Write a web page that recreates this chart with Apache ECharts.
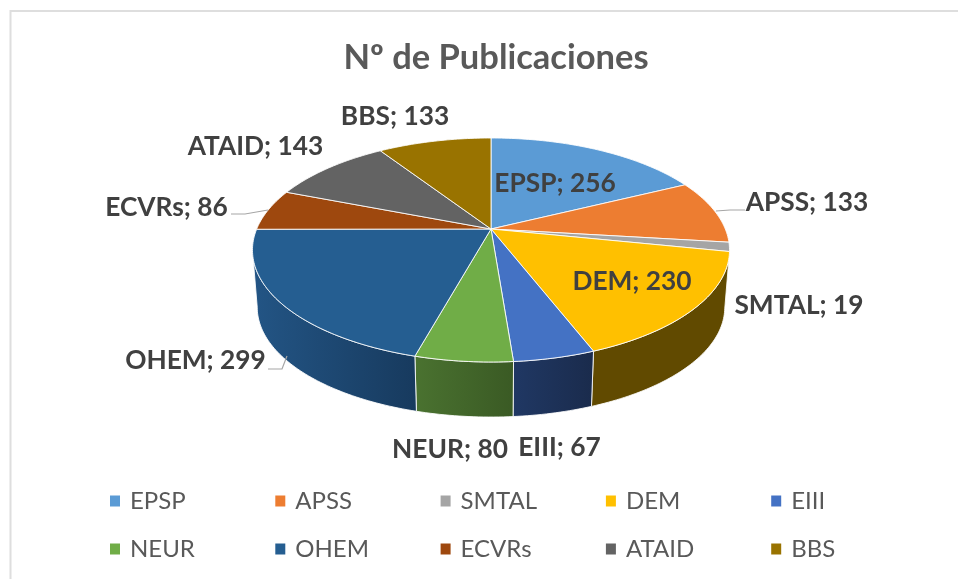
<!DOCTYPE html>
<html>
<head>
<meta charset="utf-8">
<style>html,body{margin:0;padding:0;background:#fff}#c{width:958px;height:579px}</style>
<script src="https://cdn.jsdelivr.net/npm/echarts@6/dist/echarts.min.js"></script>
</head>
<body>
<div id="c"></div>
<script>
// ---- data ----
const titleText = 'Nº de Publicaciones';
const categories = ['EPSP','APSS','SMTAL','DEM','EIII','NEUR','OHEM','ECVRs','ATAID','BBS'];
const values = [256,133,19,230,67,80,299,86,143,133];
const topColors = ['#5B9BD5','#ED7D31','#A5A5A5','#FFC000','#4472C4','#70AD47','#255E91','#9E480E','#636363','#997300'];
const wallLeft = ['#37699a','#8f4b1d','#636363','#614A00','#203864','#4A7230','#235585','#5f2b08','#3b3b3b','#5c4500'];
const wallRight = ['#37699a','#8f4b1d','#636363','#614A00','#1A2B4C','#3A5A24','#173A5E','#5f2b08','#3b3b3b','#5c4500'];

// ---- layout ----
const PIE = {cx:491, cy:229, rx:234.3, ry:108.06, persp:0.1875, shrink:0.98, drop:57.7};
const FONT = 'Lato, Carlito, sans-serif';
const labelCenters = [[555,184],[807,203],[799,306],[632,282],[559.5,448],[450,450],[195.5,361],[166.5,208],[255.5,147],[395,117]];
const leaders = {
  1: [[716,211],[730,210],[745,210]],
  6: [[268,369],[282,369],[287,356]],
  7: [[231,214],[245,214],[268,210]]
};
const legendCols = 5, legendX = 110, legendDX = 165.3, legendY = [489,537];

const total = values.reduce((a,b)=>a+b,0);
const silhouette = Math.acos(-PIE.persp)*180/Math.PI;
function startAngle(i){ return values.slice(0,i).reduce((a,b)=>a+b,0)/total*360; }
function projTop(deg){
  const r = deg*Math.PI/180, X = Math.sin(r), Y = Math.cos(r), w = 1+PIE.persp*Y;
  return [PIE.cx+PIE.rx*X/w, PIE.cy-PIE.ry*Y/w];
}
function projBottom(deg){
  const p = projTop(deg);
  return [PIE.cx+PIE.shrink*(p[0]-PIE.cx), PIE.cy+PIE.drop+PIE.shrink*(p[1]-PIE.cy)];
}
function samples(a0,a1){
  const out=[a0], n=Math.max(1,Math.ceil((a1-a0)/1));
  for(let k=1;k<=n;k++) out.push(a0+(a1-a0)*k/n);
  return out;
}
function renderSlice(i){
  return function(params, api){
    const span = api.value(0)/total*360, a0 = startAngle(i), a1 = a0+span;
    const kids = [];
    // side wall (only the part turned to the viewer, out to the silhouette)
    const w0 = Math.max(a0,silhouette), w1 = Math.min(a1,360-silhouette);
    if (w1>w0){
      const angs = samples(w0,w1);
      const pts = angs.map(projTop).concat(angs.slice().reverse().map(projBottom));
      kids.push({type:'polygon', z2:2+i, shape:{points:pts}, style:{
        fill:{type:'linear',x:0,y:0,x2:1,y2:0,colorStops:[{offset:0,color:wallLeft[i]},{offset:1,color:wallRight[i]}]},
        stroke:'rgba(255,255,255,0.85)', lineWidth:1, lineJoin:'round'}});
    }
    // top face
    const top = [[PIE.cx,PIE.cy]].concat(samples(a0,a1).map(projTop));
    kids.push({type:'polygon', z2:20+i, shape:{points:top}, style:{fill:topColors[i],stroke:'rgba(255,255,255,0.85)',lineWidth:1,lineJoin:'round'}});
    // leader
    if (leaders[i]) kids.push({type:'polyline', z2:40, shape:{points:leaders[i]}, style:{fill:null,stroke:'#A6A6A6',lineWidth:1.2}});
    // label
    kids.push({type:'text', z2:50, style:{
      text:categories[i]+'; '+api.value(0), x:labelCenters[i][0], y:labelCenters[i][1],
      align:'center', verticalAlign:'middle', textAlign:'center', textVerticalAlign:'middle',
      font:'bold 26.3px '+FONT, fill:'#404040'}});
    return {type:'group', children:kids};
  };
}

const chart = echarts.init(document.getElementById('c'), null, {renderer:'canvas'});
chart.setOption({
  animation:false,
  backgroundColor:'#fff',
  title:{text:titleText,left:491,top:35,textAlign:'center',textStyle:{fontFamily:FONT,fontWeight:'bold',fontSize:34.5,color:'#595959'}},
  tooltip:{show:false},
  legend: categories.map((name,i)=>({
    data:[name], orient:'horizontal', selectedMode:false,
    left:legendX+legendDX*(i%legendCols)-0, top:legendY[Math.floor(i/legendCols)],
    padding:0, itemWidth:10, itemHeight:11, icon:'rect', itemGap:0,
    textStyle:{fontFamily:FONT,fontSize:24,color:'#595959',padding:[0,0,0,5]}
  })),
  graphic:[
    {type:'line',silent:true,shape:{x1:10.5,y1:11,x2:958,y2:11},style:{stroke:'#DEDEDE',lineWidth:2}},
    {type:'line',silent:true,shape:{x1:10.5,y1:10,x2:10.5,y2:579},style:{stroke:'#DEDEDE',lineWidth:2}}
  ],
  series: categories.map((name,i)=>({
    type:'custom', name, coordinateSystem:'none', silent:true,
    itemStyle:{color:topColors[i]},
    renderItem:renderSlice(i), data:[[values[i]]], encode:{value:0}
  }))
});
</script>
</body>
</html>
